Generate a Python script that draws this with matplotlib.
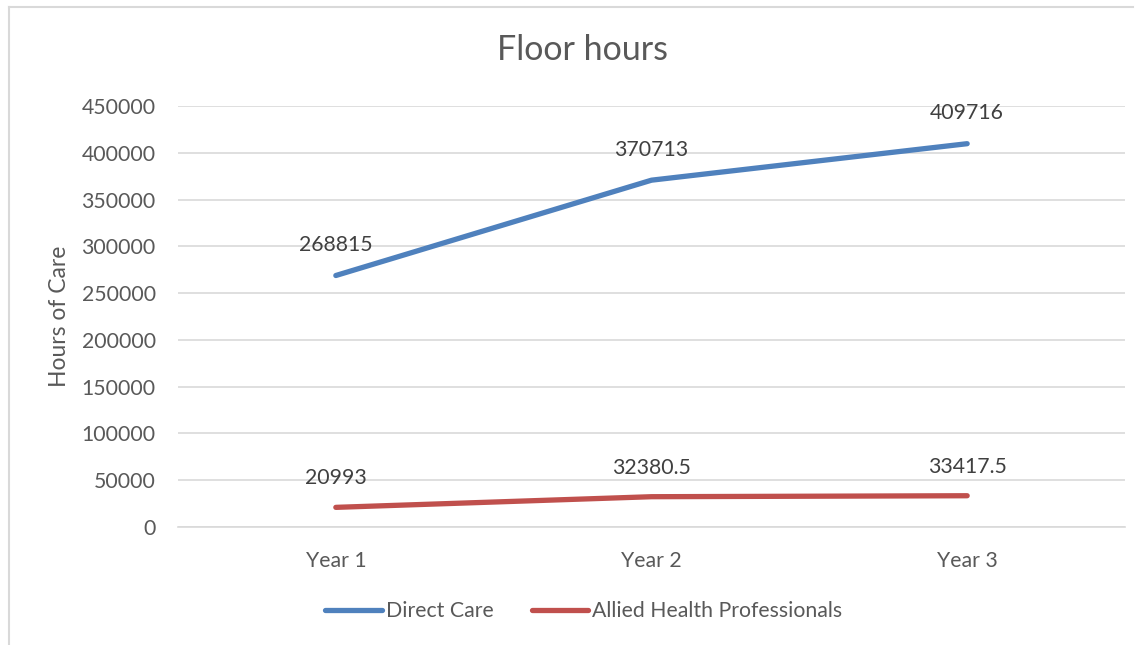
import matplotlib
matplotlib.use("Agg")
import matplotlib.pyplot as plt
from matplotlib.lines import Line2D

categories = ["Year 1", "Year 2", "Year 3"]
direct_care = [268815, 370713, 409716]
allied_health = [20993, 32380.5, 33417.5]
direct_labels = ["268815", "370713", "409716"]
allied_labels = ["20993", "32380.5", "33417.5"]
yticks = [0, 50000, 100000, 150000, 200000, 250000, 300000, 350000, 400000, 450000]

plt.rcParams['font.family'] = ['Lato', 'DejaVu Sans']
W, H = 1142, 645
fig = plt.figure(figsize=(W/100, H/100), dpi=100)
ax = fig.add_axes([178/W, 1-527/H, (1125-178)/W, (527-106)/H])

txt = '#595959'
blue = '#4F81BD'
red = '#C0504D'
fs = 15.3

x = list(range(len(categories)))
ax.plot(x, direct_care, color=blue, lw=3.8, solid_capstyle='round', label='Direct Care')
ax.plot(x, allied_health, color=red, lw=3.8, solid_capstyle='round', label='Allied Health Professionals')

for xi, v, l in zip(x, direct_care, direct_labels):
    ax.annotate(l, (xi, v), xytext=(0, 22), textcoords='offset points',
                ha='center', va='center', fontsize=fs, color='#404040')
for xi, v, l in zip(x, allied_health, allied_labels):
    ax.annotate(l, (xi, v), xytext=(0, 21), textcoords='offset points',
                ha='center', va='center', fontsize=fs, color='#404040')

ax.set_xlim(-0.5, 2.5)
ax.set_ylim(0, 450000)
ax.set_yticks(yticks)
ax.set_yticklabels([str(t) for t in yticks])
ax.set_xticks(x)
ax.set_xticklabels(categories)
ax.tick_params(axis='both', length=0, labelsize=fs, labelcolor=txt)
ax.tick_params(axis='y', pad=16)
ax.tick_params(axis='x', pad=17)
ax.grid(axis='y', color='#D9D9D9', lw=1.2)
ax.set_axisbelow(True)
for s in ax.spines.values():
    s.set_visible(False)
ax.spines['bottom'].set_visible(True)
ax.spines['bottom'].set_color('#D9D9D9')
ax.spines['bottom'].set_linewidth(1.2)

fig.text(60/W, 1-316/H, 'Hours of Care', rotation=90, ha='center', va='center',
         fontsize=16.5, color=txt)
fig.text(582/W, 1-50/H, 'Floor hours', ha='center', va='center', fontsize=24.5, color=txt)

leg = fig.legend(loc='center', bbox_to_anchor=(584/W, 1-611/H), ncol=2, frameon=False,
                 fontsize=fs, handlelength=2.65, handletextpad=0.2, columnspacing=1.8)
for t in leg.get_texts():
    t.set_color(txt)

border = '#D9D9D9'
fig.add_artist(Line2D([9/W, 9/W], [1-7/H, 0], color=border, lw=1.5, transform=fig.transFigure))
fig.add_artist(Line2D([9/W, 1133/W], [1-7/H, 1-7/H], color=border, lw=1.5, transform=fig.transFigure))

fig.savefig('out.png', dpi=100)
